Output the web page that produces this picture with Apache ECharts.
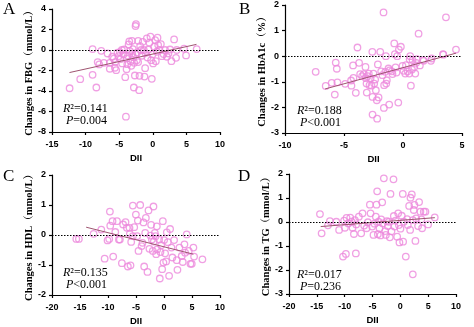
<!DOCTYPE html>
<html>
<head>
<meta charset="utf-8">
<script src="https://cdn.jsdelivr.net/npm/echarts@6/dist/echarts.min.js"></script>
<style>
  html, body { margin: 0; padding: 0; background: #fff; }
  #chart { width: 474px; height: 327px; }
</style>
</head>
<body>
<div id="chart"></div>
<script>
// Panel A: change in fasting blood glucose vs DII
const pointsA = [
  [-12.38,-3.73],[-10.8,-2.85],[-8.96,0.09],[-8.96,-2.42],[-8.4,-3.66],[-8.2,-1.18],[-7.97,-1.41],
  [-7.67,-0.08],[-7.28,-1.25],[-6.73,-0.34],[-6.4,-1.83],[-6.4,-1.25],[-6.04,-0.66],[-5.8,-0.85],
  [-5.64,-1.73],[-5.45,-1.97],[-5.6,-1.18],[-5.25,-0.27],[-5.1,-0.6],[-4.8,-0.89],[-4.6,0.0],
  [-4.55,-1.31],[-4.36,-0.43],[-4.26,0.05],[-4.1,-2.65],[-4.0,-6.5],[-3.9,-1.87],[-3.9,-0.83],
  [-3.8,-1.38],[-3.7,-0.56],[-3.6,0.54],[-3.5,0.84],[-3.3,-1.09],[-3.2,-1.54],[-3.1,0.9],
  [-3.07,-0.34],[-2.97,0.09],[-2.82,-3.66],[-2.77,-1.25],[-2.67,-2.49],[-2.5,2.53],[-2.57,2.34],
  [-2.57,-0.43],[-2.38,-0.99],[-2.33,-0.24],[-2.18,-1.18],[-2.18,0.9],[-2.03,-3.92],[-1.98,-2.52],
  [-1.88,0.38],[-1.73,0.0],[-1.63,-0.56],[-1.49,0.8],[-1.34,0.0],[-1.24,-2.59],[-1.14,-1.77],
  [-0.89,1.13],[-0.79,-0.73],[-0.64,0.05],[-0.5,0.71],[-0.35,1.3],[-0.25,-0.99],[-0.15,-2.81],
  [-0.05,-0.43],[0.05,-1.31],[0.2,0.32],[0.35,0.97],[0.45,-1.09],[0.6,-0.17],[0.7,1.2],
  [0.8,0.48],[1.0,0.0],[1.2,0.58],[1.35,-0.6],[1.6,-0.4],[1.83,0.0],[2.1,-0.66],[2.33,-0.34],
  [2.57,0.05],[2.77,-1.09],[3.17,1.03],[3.46,-0.76],[3.56,0.0],[4.65,0.13],[4.95,-0.53],[6.53,0.09],
  [-2.9,-0.7],[-1.1,-0.3],[-4.9,-0.2],[-3.4,-0.1]
];
const fitA = [[-12.4,-2.2],[6.5,0.55]];

// Panel B: change in HbA1c vs DII
const pointsB = [
  [-7.4,-0.61],[-6.55,-1.16],[-6.04,-1.04],[-5.78,-1.5],[-5.7,-0.25],[-5.61,-0.49],[-5.56,-1.02],
  [-4.9,-1.08],[-4.4,-0.95],[-4.37,-1.15],[-4.23,-0.36],[-4.2,-0.85],[-4.0,-1.43],[-3.86,0.34],
  [-3.72,-0.26],[-3.63,-0.7],[-3.46,-0.78],[-3.32,-0.7],[-3.18,-0.42],[-3.15,-0.86],[-3.09,-1.07],
  [-3.07,-1.42],[-3.0,-0.78],[-2.9,-0.68],[-2.84,-1.13],[-2.75,-0.86],[-2.67,-1.15],[-2.6,0.17],
  [-2.58,-2.28],[-2.58,-1.59],[-2.5,-0.68],[-2.44,-1.07],[-2.36,-0.91],[-2.3,-1.33],[-2.22,-1.72],
  [-2.19,-2.44],[-2.13,-0.32],[-2.07,-1.61],[-1.93,0.17],[-1.85,-0.59],[-1.74,-0.74],[-1.65,1.71],
  [-1.62,-2.02],[-1.6,-1.13],[-1.5,-0.61],[-1.45,0.0],[-1.42,-1.07],[-1.37,-0.94],[-1.23,-0.48],
  [-1.17,-1.89],[-1.14,-0.55],[-0.94,-0.59],[-0.89,-0.7],[-0.74,0.5],[-0.69,0.08],[-0.63,-0.44],
  [-0.55,-0.64],[-0.49,0.0],[-0.4,-1.81],[-0.35,0.26],[-0.18,0.37],[-0.04,-0.38],[0.05,-0.57],
  [0.19,-0.68],[0.25,-0.35],[0.39,-0.59],[0.53,-0.68],[0.56,-0.12],[0.61,0.0],[0.67,-1.15],
  [0.76,-0.52],[0.81,-0.15],[0.95,-0.42],[1.04,-0.68],[1.12,-0.26],[1.18,-0.12],[1.32,0.88],
  [1.43,-0.36],[1.69,-0.15],[1.75,-0.18],[2.37,-0.18],[2.43,-0.09],[3.39,0.08],[3.42,0.06],
  [3.64,1.52],[4.49,0.26]
];
const fitB = [[-6.6,-1.28],[4.5,0.12]];

// Panel C: change in HDL vs DII
const pointsC = [
  [-15.66,-0.13],[-15.2,-0.13],[-12.57,0.04],[-11.2,0.18],[-10.6,-0.79],[-10.08,-0.18],[-9.78,-0.13],
  [-9.66,0.78],[-9.6,0.31],[-9.19,0.46],[-9.07,-0.72],[-8.7,0.1],[-8.4,0.46],[-8.06,-0.15],
  [-7.88,-0.15],[-7.52,-0.94],[-7.3,0.35],[-6.87,0.43],[-6.63,0.24],[-6.45,-1.05],[-6.16,0.24],
  [-6.1,0.04],[-5.98,-1.01],[-5.86,-0.23],[-5.56,0.98],[-5.56,-0.04],[-5.32,0.26],[-5.02,0.68],
  [-4.8,-0.04],[-4.67,0.48],[-4.55,-0.53],[-4.25,1.0],[-4.0,-0.37],[-3.84,-0.26],[-3.66,0.42],
  [-3.54,-1.05],[-3.36,0.07],[-3.24,0.57],[-2.95,-1.23],[-2.77,0.82],[-2.6,-0.46],[-2.42,-0.02],
  [-2.3,0.34],[-2.17,-0.15],[-2.0,-0.53],[-1.88,0.95],[-1.82,-0.22],[-1.64,0.07],[-1.5,-0.04],
  [-1.4,-0.64],[-1.28,0.29],[-1.22,-0.48],[-0.87,-0.15],[-0.75,-1.45],[-0.63,-0.57],[-0.51,-0.34],
  [-0.33,-1.14],[-0.21,0.46],[-0.1,-0.92],[0.02,-0.17],[0.2,-0.61],[0.38,-0.88],[0.5,0.09],
  [0.68,-0.24],[0.91,-1.36],[1.09,0.2],[1.33,-0.42],[1.5,-0.75],[1.8,-0.17],[2.28,-0.84],
  [2.4,-1.16],[2.76,-0.42],[3.17,-0.7],[3.35,-0.9],[3.65,-0.31],[3.77,-0.59],[4.06,0.02],
  [4.42,-0.53],[4.72,-0.96],[4.96,-0.96],[5.25,-0.42],[5.37,-0.72],[6.86,-0.81]
];
const fitC = [[-13.9,0.26],[5.25,-0.64]];

// Panel D: change in TG vs DII
const pointsD = [
  [-14.44,0.33],[-14.14,-0.47],[-13.0,-0.14],[-12.65,0.04],[-11.5,0.01],[-11.0,-0.33],[-10.3,-1.44],
  [-10.1,0.06],[-9.96,-0.24],[-9.78,-1.33],[-9.66,0.17],[-9.36,-0.06],[-9.0,0.18],[-8.76,0.01],
  [-8.58,-0.24],[-8.34,-0.5],[-8.16,0.08],[-7.99,-1.31],[-7.93,-0.1],[-7.45,0.22],[-7.03,-0.47],
  [-6.79,0.36],[-6.5,-0.15],[-6.07,-0.26],[-5.83,-0.01],[-5.47,0.72],[-5.35,0.36],[-5.06,-0.19],
  [-4.82,-0.54],[-4.64,-0.07],[-4.4,0.22],[-4.28,0.72],[-4.16,1.28],[-4.04,-0.51],[-3.92,0.01],
  [-3.74,-0.26],[-3.56,-0.56],[-3.44,0.11],[-3.26,0.82],[-3.14,-0.06],[-2.96,1.82],[-2.72,-0.38],
  [-2.6,-0.54],[-2.43,0.04],[-2.25,-0.17],[-2.07,0.01],[-1.89,-0.64],[-1.77,1.17],[-1.59,-0.39],
  [-1.23,1.78],[-1.17,0.25],[-1.05,-0.19],[-0.87,0.06],[-0.57,-0.61],[-0.39,0.36],[-0.27,-0.13],
  [-0.16,-0.85],[0.02,-0.28],[0.26,0.26],[0.44,1.17],[0.5,-0.82],[0.62,0.01],[0.98,-1.44],
  [1.22,0.12],[1.34,-0.13],[1.58,0.67],[1.76,-0.33],[1.82,1.01],[2.06,1.15],[2.24,0.08],
  [2.24,-2.18],[2.41,0.5],[2.53,0.71],[2.71,-0.79],[2.83,0.15],[3.19,-0.17],[3.37,0.83],
  [3.61,0.43],[3.79,0.11],[3.91,-0.26],[4.21,0.43],[4.51,0.43],[4.99,-0.1],[6.18,0.19]
];
const fitD = [[-14.3,-0.19],[6.2,0.18]];

const yNames = ['Changes in FBG（mmol/L）', 'Changes in HbA1c（%）',
                'Changes in HDL（mmol/L）', 'Changes in TG（mmol/L）'];
const xName = 'DII';
const letters = ['A', 'B', 'C', 'D'];
const r2Text = ['0.141', '0.188', '0.135', '0.017'];
const pText = ['=0.004', '<0.001', '<0.001', '=0.236'];

const xRanges = [[-15, 10, 5], [-10, 5, 5], [-20, 10, 5], [-20, 10, 5]];
const yRanges = [[-8, 4, 2], [-3, 2, 1], [-2, 2, 1], [-3, 2, 1]];

const allPoints = [pointsA, pointsB, pointsC, pointsD];
const allFits = [fitA, fitB, fitC, fitD];

const grids = [
  { left: 52, top: 9, width: 168, height: 123 },
  { left: 285, top: 5, width: 177, height: 128 },
  { left: 52, top: 175, width: 168, height: 121 },
  { left: 289, top: 174, width: 167, height: 120 }
];
const yNameGaps = [14, 10, 9, 15];
const annoPos = [[63, 103], [297, 105], [63, 267], [297, 269]];
const letterPos = [[3, 1], [239, 1], [3, 168], [238, 168]];

const markerColor = '#ec88dc';
const fitColor = '#9e5470';
const serif = '"Liberation Serif", "Times New Roman", "Noto Serif CJK SC", serif';
const sans = '"Liberation Sans", Arial, sans-serif';

const xAxes = [], yAxes = [], series = [], graphics = [];
for (let i = 0; i < 4; i++) {
  xAxes.push({
    gridIndex: i, type: 'value',
    min: xRanges[i][0], max: xRanges[i][1], interval: xRanges[i][2],
    name: xName, nameLocation: 'middle', nameGap: 21,
    nameTextStyle: { fontFamily: sans, fontWeight: 'bold', fontSize: 9.5, color: '#000' },
    axisLine: { onZero: false, lineStyle: { color: '#000', width: 1.2 } },
    axisTick: { length: 3, lineStyle: { color: '#000', width: 1.2 } },
    axisLabel: { fontFamily: sans, fontWeight: 'bold', fontSize: 9, color: '#000', margin: 8 },
    splitLine: { show: false }
  });
  yAxes.push({
    gridIndex: i, type: 'value',
    min: yRanges[i][0], max: yRanges[i][1], interval: yRanges[i][2],
    name: yNames[i], nameLocation: 'middle', nameGap: yNameGaps[i],
    nameTextStyle: { fontFamily: serif, fontWeight: 'bold', fontSize: 10.5, color: '#000' },
    axisLine: { onZero: false, lineStyle: { color: '#000', width: 1.2 } },
    axisTick: { length: 3, lineStyle: { color: '#000', width: 1.2 } },
    axisLabel: { fontFamily: sans, fontWeight: 'bold', fontSize: 9, color: '#000', margin: 6 },
    splitLine: { show: false }
  });
  series.push({
    type: 'scatter', xAxisIndex: i, yAxisIndex: i,
    data: allPoints[i], symbol: 'circle', symbolSize: 6.5,
    itemStyle: { color: 'rgba(0,0,0,0)', borderColor: markerColor, borderWidth: 1.3 },
    markLine: {
      silent: true, symbol: 'none', label: { show: false },
      lineStyle: { color: '#000', type: [1.5, 1.5], width: 1 },
      data: [{ yAxis: 0 }]
    },
    z: 2
  });
  series.push({
    type: 'line', xAxisIndex: i, yAxisIndex: i,
    data: allFits[i], symbol: 'none',
    lineStyle: { color: fitColor, width: 1 },
    z: 3
  });
  graphics.push({
    type: 'text', left: letterPos[i][0], top: letterPos[i][1],
    style: { text: letters[i], font: '17px ' + serif, fill: '#000' }
  });
  graphics.push({
    type: 'text', left: annoPos[i][0], top: annoPos[i][1],
    style: {
      text: '{i|R}²=' + r2Text[i] + '\n {i|P}' + pText[i],
      fill: '#000', font: '12px ' + serif, lineHeight: 12,
      rich: { i: { fontStyle: 'italic', fontFamily: serif, fontSize: 12 } }
    }
  });
}

const chart = echarts.init(document.getElementById('chart'), null, { renderer: 'canvas' });
chart.setOption({
  animation: false,
  backgroundColor: '#fff',
  grid: grids,
  xAxis: xAxes,
  yAxis: yAxes,
  series: series,
  graphic: graphics
});
</script>
</body>
</html>
